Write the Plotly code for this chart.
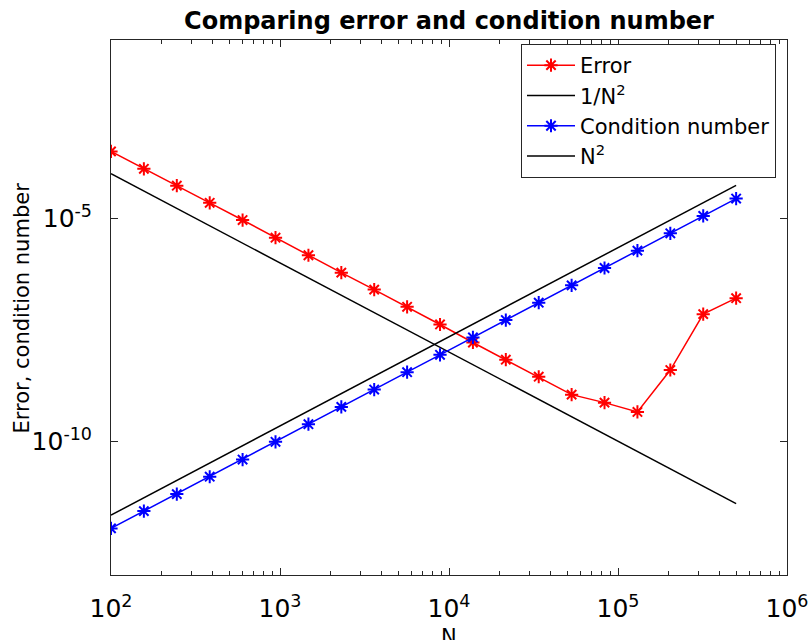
import plotly.graph_objects as go

# ---- data ----
N = [100, 156.5, 245.1, 383.8, 600.7, 940.6, 1473, 2306, 3609, 5651,
     8848, 13853, 21689, 33956, 53160, 83225, 130300, 203980, 319350, 500000]
error_vals = [3.16e-4, 1.29e-4, 5.4e-5, 2.23e-5, 9.16e-6, 3.68e-6, 1.486e-6, 6.05e-7,
              2.52e-7, 1.035e-7, 4.16e-8, 1.64e-8, 6.75e-9, 2.8e-9, 1.11e-9, 7.35e-10,
              4.55e-10, 3.96e-9, 7.1e-8, 1.62e-7]
cond_vals = [1.11e-12, 2.71e-12, 6.52e-12, 1.6e-11, 3.89e-11, 9.7e-11, 2.41e-10, 5.9e-10,
             1.446e-9, 3.54e-9, 8.69e-9, 2.13e-8, 5.22e-8, 1.28e-7, 3.14e-7, 7.69e-7,
             1.885e-6, 4.62e-6, 1.132e-5, 2.775e-5]
ref_N = [100, 500000]
inv_N2 = [1e-4, 4e-12]
N2_scaled = [2.2e-12, 5.5e-5]

x_tickvals = [1e2, 1e3, 1e4, 1e5, 1e6]
x_ticktext = ["10<sup>2</sup>", "10<sup>3</sup>", "10<sup>4</sup>", "10<sup>5</sup>", "10<sup>6</sup>"]
y_tickvals = [1e-10, 1e-5]
y_ticktext = ["10<sup>-10</sup>", "10<sup>-5</sup>"]

FONT = "DejaVu Sans"
AX = "#262626"

fig = go.Figure()
fig.add_trace(go.Scatter(x=N, y=error_vals, name="Error", mode="lines+markers",
                         line=dict(color="#ff0000", width=1.5),
                         marker=dict(symbol="asterisk", size=11,
                                     line=dict(color="#ff0000", width=2))))
fig.add_trace(go.Scatter(x=ref_N, y=inv_N2, name="1/N<sup>2</sup>", mode="lines",
                         line=dict(color="black", width=1.5)))
fig.add_trace(go.Scatter(x=N, y=cond_vals, name="Condition number", mode="lines+markers",
                         line=dict(color="#0000ff", width=1.5),
                         marker=dict(symbol="asterisk", size=11,
                                     line=dict(color="#0000ff", width=2))))
fig.add_trace(go.Scatter(x=ref_N, y=N2_scaled, name="N<sup>2</sup>", mode="lines",
                         line=dict(color="black", width=1.5)))

W, H = 809, 640
L, T, R, B = 111, 40, 22, 65
pw, ph = W - L - R, H - T - B

def py(ypix):  # window pixel y -> paper y
    return ((H - B) - ypix) / ph

def px(xpix):  # window pixel x -> paper x
    return (xpix - L) / pw

fig.update_layout(
    width=W, height=H,
    margin=dict(l=L, r=R, t=T, b=B, pad=0, autoexpand=False),
    paper_bgcolor="white", plot_bgcolor="white",
    font=dict(family=FONT, color="black"),
    title=dict(text="<b>Comparing error and condition number</b>",
               font=dict(family=FONT, size=24, color="black"),
               x=(L + pw / 2) / W, xanchor="center",
               xref="container", yref="container",
               y=1 - 21 / H, yanchor="middle"),
    showlegend=True,
    legend=dict(x=px(776), xanchor="right", y=py(44), yanchor="top",
                bgcolor="white", bordercolor=AX, borderwidth=1, itemwidth=48,
                font=dict(family=FONT, size=21, color="black")),
    xaxis=dict(type="log", range=[2, 6], tickmode="array",
               tickvals=x_tickvals, ticktext=x_ticktext, automargin=False,
               ticks="inside", ticklen=7, tickwidth=1, tickcolor=AX,
               showline=True, linecolor=AX, linewidth=1, mirror="allticks",
               showgrid=False, zeroline=False,
               tickfont=dict(family=FONT, size=25, color="black"),
               ticklabelstandoff=11,
               minor=dict(ticks="inside", ticklen=4, tickcolor=AX, dtick="D1", showgrid=False)),
    yaxis=dict(type="log", range=[-13, -1], tickmode="array",
               tickvals=y_tickvals, ticktext=y_ticktext, automargin=False,
               ticks="inside", ticklen=7, tickwidth=1, tickcolor=AX,
               showline=True, linecolor=AX, linewidth=1, mirror="allticks",
               showgrid=False, zeroline=False,
               tickfont=dict(family=FONT, size=25, color="black"),
               ticklabelstandoff=13),
    annotations=[
        dict(text="N", xref="paper", yref="paper", x=0.5, y=py(637),
             xanchor="center", yanchor="middle", showarrow=False,
             font=dict(family=FONT, size=21, color="black")),
        dict(text="Error, condition number", xref="paper", yref="paper",
             x=px(21), y=0.5, xanchor="center", yanchor="middle",
             textangle=-90, showarrow=False,
             font=dict(family=FONT, size=21, color="black")),
    ],
)

fig.write_html(
    "out.html",
    config={"displayModeBar": False},
    post_script="document.body.style.margin='0';document.body.style.overflow='hidden';",
)
